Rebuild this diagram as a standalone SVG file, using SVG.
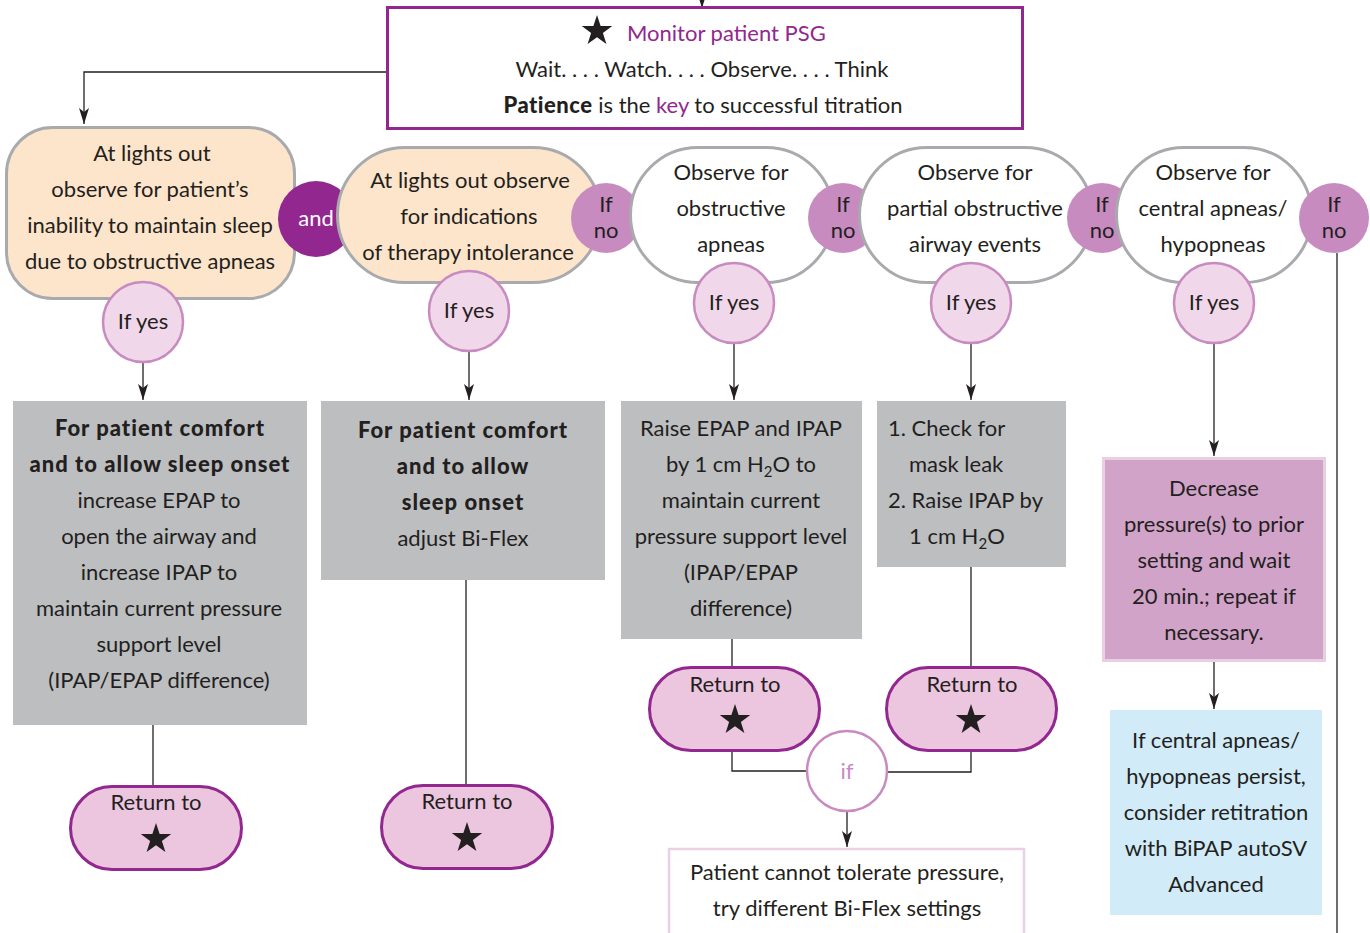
<svg xmlns="http://www.w3.org/2000/svg" width="1370" height="933" viewBox="0 0 1370 933">
<style>
text{font-family:Lato,"Liberation Sans",sans-serif;font-size:22px;fill:#231f20;text-anchor:middle}
.b{font-weight:900;letter-spacing:1px}
.l{text-anchor:start}
.pill{fill:#fde5cb;stroke:#a8aaad;stroke-width:3}
.wpill{fill:#ffffff;stroke:#a8aaad;stroke-width:3}
.gray{fill:#bcbec0}
.no{fill:#c88bc0}
.yes{fill:#f1d7ea;stroke:#c88bc0;stroke-width:2.5}
.ret{fill:#ecc5df;stroke:#92278f;stroke-width:3}
.ln{fill:none;stroke:#231f20;stroke-width:1.3}
.arr{fill:none;stroke:#231f20;stroke-width:1.3;marker-end:url(#ah)}
.star{fill:#231f20}
</style>
<defs>
<marker id="ah" viewBox="0 0 16 10" refX="16" refY="5" markerWidth="16" markerHeight="10" markerUnits="userSpaceOnUse" orient="auto">
<path d="M0,0 L16,5 L0,10 L4,5 Z" fill="#231f20"/>
</marker>
<path id="star" d="M0,-16 L3.64,-5.02 L15.22,-4.94 L5.9,1.92 L9.4,12.94 L0,6.2 L-9.4,12.94 L-5.9,1.92 L-15.22,-4.94 L-3.64,-5.02 Z"/>
</defs>

<g id="connectors">
<path class="arr" d="M702,0 L702,8"/>
<path class="arr" d="M387,72 L84,72 L84,124"/>
<path class="arr" d="M143,362 L143,400"/>
<path class="arr" d="M469,351 L469,400"/>
<path class="arr" d="M734,343 L734,400"/>
<path class="arr" d="M971,343 L971,400"/>
<path class="arr" d="M1214,343 L1214,456"/>
<path class="ln" d="M153,725 L153,786"/>
<path class="ln" d="M466,580 L466,785"/>
<path class="ln" d="M732,639 L732,667"/>
<path class="ln" d="M971,567 L971,667"/>
<path class="ln" d="M732,751 L732,771 L807,771"/>
<path class="ln" d="M971,751 L971,772 L887,772"/>
<path class="arr" d="M847,811 L847,847"/>
<path class="arr" d="M1214,662 L1214,709"/>
<path class="ln" d="M1337,253 L1337,933"/>
</g>

<g id="monitor">
<rect x="387.5" y="7.5" width="635" height="121" fill="#ffffff" stroke="#92278f" stroke-width="3"/>
<use href="#star" class="star" x="597" y="31"/>
<text x="627" y="41" class="l" style="fill:#92278f">Monitor patient PSG</text>
<text x="702" y="77">Wait. . . .  Watch. . . .  Observe. . . .  Think</text>
<text x="703" y="113"><tspan class="b" style="letter-spacing:0.5px">Patience</tspan> is the <tspan style="fill:#92278f">key</tspan> to successful titration</text>
</g>

<g id="n1">
<rect x="6.5" y="127.5" width="288" height="171" rx="46" class="pill"/>
<text x="152" y="161">At lights out</text>
<text x="150" y="197">observe for patient’s</text>
<text x="150" y="233">inability to maintain sleep</text>
<text x="150" y="269">due to obstructive apneas</text>
</g>

<g id="and">
<circle cx="316" cy="219" r="38" fill="#92278f"/>
<text x="316" y="226" style="fill:#ffffff">and</text>
</g>

<g id="n2">
<rect x="337.5" y="147.5" width="263" height="135" rx="67.5" class="pill"/>
<text x="470" y="188">At lights out observe</text>
<text x="469" y="224">for indications</text>
<text x="468" y="260">of therapy intolerance</text>
</g>

<g id="no1">
<circle cx="606" cy="218" r="35" class="no"/>
<text x="606" y="212">If</text>
<text x="606" y="238">no</text>
</g>

<g id="n3">
<rect x="630.5" y="147.5" width="203" height="135" rx="67.5" class="wpill"/>
<text x="731" y="180">Observe for</text>
<text x="731" y="216">obstructive</text>
<text x="731" y="252">apneas</text>
</g>

<g id="no2">
<circle cx="843" cy="218" r="35" class="no"/>
<text x="843" y="212">If</text>
<text x="843" y="238">no</text>
</g>

<g id="n4">
<rect x="859.5" y="147.5" width="233" height="135" rx="67.5" class="wpill"/>
<text x="975" y="180">Observe for</text>
<text x="975" y="216">partial obstructive</text>
<text x="975" y="252">airway events</text>
</g>

<g id="no3">
<circle cx="1102" cy="218" r="35" class="no"/>
<text x="1102" y="212">If</text>
<text x="1102" y="238">no</text>
</g>

<g id="n5">
<rect x="1116.5" y="147.5" width="195" height="135" rx="67.5" class="wpill"/>
<text x="1213" y="180">Observe for</text>
<text x="1213" y="216">central apneas/</text>
<text x="1213" y="252">hypopneas</text>
</g>

<g id="no4">
<circle cx="1334" cy="218" r="35" class="no"/>
<text x="1334" y="212">If</text>
<text x="1334" y="238">no</text>
</g>

<g id="yes1"><circle cx="143" cy="322" r="40" class="yes"/><text x="143" y="329">If yes</text></g>
<g id="yes2"><circle cx="469" cy="311" r="40" class="yes"/><text x="469" y="318">If yes</text></g>
<g id="yes3"><circle cx="734" cy="303" r="40" class="yes"/><text x="734" y="310">If yes</text></g>
<g id="yes4"><circle cx="971" cy="303" r="40" class="yes"/><text x="971" y="310">If yes</text></g>
<g id="yes5"><circle cx="1214" cy="303" r="40" class="yes"/><text x="1214" y="310">If yes</text></g>

<g id="boxA">
<rect x="13" y="401" width="294" height="324" class="gray"/>
<text x="160" y="436" class="b">For patient comfort</text>
<text x="160" y="472" class="b">and to allow sleep onset</text>
<text x="159" y="508">increase EPAP to</text>
<text x="159" y="544">open the airway and</text>
<text x="159" y="580">increase IPAP to</text>
<text x="159" y="616">maintain current pressure</text>
<text x="159" y="652">support level</text>
<text x="159" y="688">(IPAP/EPAP difference)</text>
</g>

<g id="boxB">
<rect x="321" y="401" width="284" height="179" class="gray"/>
<text x="463" y="438" class="b">For patient comfort</text>
<text x="463" y="474" class="b">and to allow</text>
<text x="463" y="510" class="b">sleep onset</text>
<text x="463" y="546">adjust Bi-Flex</text>
</g>

<g id="boxC">
<rect x="621" y="401" width="241" height="238" class="gray"/>
<text x="741" y="436">Raise EPAP and IPAP</text>
<text x="741" y="472">by 1 cm H<tspan dy="5" font-size="15">2</tspan><tspan dy="-5">O to</tspan></text>
<text x="741" y="508">maintain current</text>
<text x="741" y="544">pressure support level</text>
<text x="741" y="580">(IPAP/EPAP</text>
<text x="741" y="616">difference)</text>
</g>

<g id="boxD">
<rect x="877" y="401" width="189" height="166" class="gray"/>
<text x="888" y="436" class="l">1. Check for</text>
<text x="909" y="472" class="l">mask leak</text>
<text x="888" y="508" class="l">2. Raise IPAP by</text>
<text x="909" y="544" class="l">1 cm H<tspan dy="5" font-size="15">2</tspan><tspan dy="-5">O</tspan></text>
</g>

<g id="retA">
<rect x="70.5" y="786.5" width="171" height="83" rx="41.5" class="ret"/>
<text x="156" y="810">Return to</text>
<use href="#star" class="star" x="156" y="839"/>
</g>
<g id="retB">
<rect x="381.5" y="785.5" width="171" height="83" rx="41.5" class="ret"/>
<text x="467" y="809">Return to</text>
<use href="#star" class="star" x="467" y="838"/>
</g>
<g id="retC">
<rect x="649.5" y="667.5" width="170" height="83" rx="41.5" class="ret"/>
<text x="735" y="692">Return to</text>
<use href="#star" class="star" x="735" y="720"/>
</g>
<g id="retD">
<rect x="886.5" y="667.5" width="170" height="83" rx="41.5" class="ret"/>
<text x="972" y="692">Return to</text>
<use href="#star" class="star" x="971" y="720"/>
</g>

<g id="if">
<circle cx="847" cy="771" r="40" fill="#ffffff" stroke="#c88bc0" stroke-width="2.5"/>
<text x="847" y="779" style="fill:#c88bc0">if</text>
</g>

<g id="boxE">
<rect x="669" y="849" width="355" height="90" fill="#ffffff" stroke="#ead0e4" stroke-width="2.5"/>
<text x="847" y="880">Patient cannot tolerate pressure,</text>
<text x="847" y="916">try different Bi-Flex settings</text>
</g>

<g id="boxF">
<rect x="1103.5" y="458.5" width="221" height="202" fill="#d1a3c9" stroke="#eacfe3" stroke-width="3"/>
<text x="1214" y="496">Decrease</text>
<text x="1214" y="532">pressure(s) to prior</text>
<text x="1214" y="568">setting and wait</text>
<text x="1214" y="604">20 min.; repeat if</text>
<text x="1214" y="640">necessary.</text>
</g>

<g id="boxG">
<rect x="1110" y="710" width="212" height="205" fill="#d1ecf8"/>
<text x="1216" y="748">If central apneas/</text>
<text x="1216" y="784">hypopneas persist,</text>
<text x="1216" y="820">consider retitration</text>
<text x="1216" y="856">with BiPAP autoSV</text>
<text x="1216" y="892">Advanced</text>
</g>
</svg>
